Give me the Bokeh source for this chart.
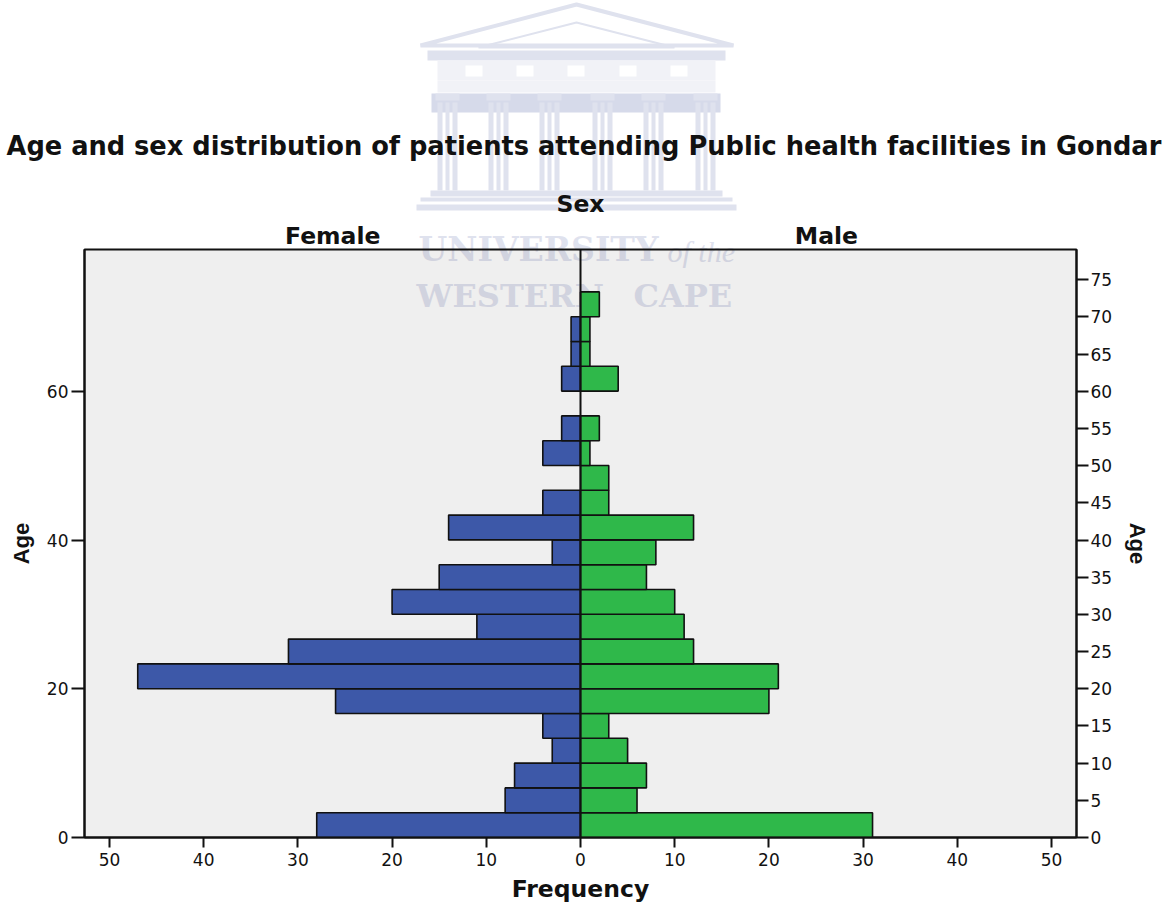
from bokeh.plotting import figure
from bokeh.core.properties import value
from bokeh.models import Range1d, LinearAxis, FixedTicker, Span
from bokeh.embed import file_html
from bokeh.resources import INLINE

TITLE = "Age and sex distribution of patients attending Public health facilities in Gondar"
BIN_WIDTH = 3.335
female = [28, 8, 7, 3, 4, 26, 47, 31, 11, 20, 15, 3, 14, 4, 0, 4, 2, 0, 2, 1, 1, 0]
male = [31, 6, 7, 5, 3, 20, 21, 12, 11, 10, 7, 8, 12, 3, 3, 1, 2, 0, 4, 1, 1, 2]
freq_ticks = [-50, -40, -30, -20, -10, 0, 10, 20, 30, 40, 50]
left_ticks = [0, 20, 40, 60]
right_ticks = [0, 5, 10, 15, 20, 25, 30, 35, 40, 45, 50, 55, 60, 65, 70, 75]
panel_ticks = {-26.3: "Female", 26.1: "Male"}

FEMALE_C = "#3d58a8"
MALE_C = "#2fb84a"
WM = "#dfe2ee"
WM2 = "#d6daea"
WM3 = "#f1f2f7"
TXT = "#111111"
WIDE = "DejaVu Sans"
ARIAL = "Liberation Sans"

W, H = 1166, 904

# ---- watermark page (logo behind the transparent chart)
wm = figure(width=W, height=H, output_backend="svg", toolbar_location=None,
            x_range=Range1d(0, W), y_range=Range1d(H, 0),
            min_border=0, outline_line_color=None,
            background_fill_color="white", border_fill_color="white")
wm.axis.visible = False
wm.grid.visible = False
wm.styles = {"position": "absolute", "top": "0", "left": "0"}

def box(l, t, r, b, color=WM):
    wm.quad(left=l, right=r, top=t, bottom=b, fill_color=color, line_color=None)

wm.patch([420, 576, 733], [45, 4, 45], fill_color=None, line_color=WM, line_width=4)
wm.patch([478, 576, 674], [47, 22, 47], fill_color=None, line_color=WM, line_width=2)
box(427, 50, 725, 60)
box(437, 60, 715, 80, WM3)
for l in [465, 516, 567, 619, 670]:
    box(l, 65, l + 17, 76, "white")
box(437, 80, 715, 92, WM3)
box(431, 93, 720, 112, WM2)
for c in [437, 488, 539, 592, 643, 695]:
    box(c - 2, 93, c + 22, 100, WM)
    box(c, 102, c + 5, 190)
    box(c + 8, 102, c + 12, 190)
    box(c + 15, 102, c + 20, 190)
box(430, 190, 722, 196)
box(420, 197, 732, 201)
box(416, 204, 736, 210)

def wm_text(text, x, y, size, style="bold", font="DejaVu Serif"):
    wm.text(x=[x], y=[y], text=[text], text_font=value(font), text_font_style=style,
            text_font_size=size, text_color=WM, text_align="left", text_baseline="middle")

wm_text("UNIVERSITY", 418, 249, "33px")
wm_text("of the", 667, 251, "30px", "italic", "Liberation Serif")
wm_text("WESTERN", 416, 295, "32px")
wm_text("CAPE", 633, 295, "32px")

# ---- chart
p = figure(width=W, height=H, output_backend="svg", toolbar_location=None,
           x_range=Range1d(-52.65, 52.65), y_range=Range1d(0, 79.07),
           min_border_left=84, min_border_right=90, min_border_top=249, min_border_bottom=67,
           border_fill_color=None, background_fill_color="black", background_fill_alpha=0.063)
p.styles = {"position": "absolute", "top": "0", "left": "0"}
p.frame_width = 992
p.frame_height = 588
p.grid.visible = False
p.outline_line_color = "#111111"
p.outline_line_width = 2

p.title.text = TITLE
p.title.text_font = WIDE
p.title.text_font_size = "25.7px"
p.title.text_font_style = "bold"
p.title.text_color = TXT
p.title.align = "left"
p.title.offset = -78
p.title.standoff = 52

def bars(values, sign, color):
    ys = [(i + 0.5) * BIN_WIDTH for i, v in enumerate(values) if v > 0]
    rs = [sign * v for v in values if v > 0]
    p.hbar(y=ys, left=0, right=rs, height=BIN_WIDTH, fill_color=color,
           line_color="#111111", line_width=1.6)

bars(female, -1, FEMALE_C)
bars(male, 1, MALE_C)
p.add_layout(Span(location=0, dimension="height", line_color="#111111", line_width=2))

def style(ax, tick_out):
    ax.major_label_text_font = WIDE
    ax.major_label_text_font_size = "17px"
    ax.major_label_text_color = TXT
    ax.axis_line_color = "#111111"
    ax.axis_line_width = 2
    ax.major_tick_line_color = "#111111"
    ax.major_tick_line_width = 2
    ax.major_tick_out = tick_out
    ax.major_tick_in = 0
    ax.minor_tick_line_color = None

def label(ax, text, font, size, standoff):
    ax.axis_label = text
    ax.axis_label_text_font = font
    ax.axis_label_text_font_style = "bold"
    ax.axis_label_text_font_size = size
    ax.axis_label_text_color = TXT
    ax.axis_label_standoff = standoff

xa = p.xaxis[0]
xa.ticker = FixedTicker(ticks=freq_ticks)
xa.major_label_overrides = {t: str(abs(t)) for t in freq_ticks}
style(xa, 10)
xa.major_label_standoff = 5
label(xa, "Frequency", WIDE, "23.5px", 6)

ya = p.yaxis[0]
ya.ticker = FixedTicker(ticks=left_ticks)
style(ya, 13)
ya.major_label_orientation = "horizontal"
ya.major_label_standoff = 3
label(ya, "Age", ARIAL, "22px", 10)

yr = LinearAxis(ticker=FixedTicker(ticks=right_ticks))
style(yr, 12)
yr.major_label_standoff = 2
label(yr, "Age", ARIAL, "22px", 10)
p.add_layout(yr, "right")

xt = LinearAxis(ticker=FixedTicker(ticks=list(panel_ticks)), major_label_overrides=panel_ticks)
xt.axis_line_color = None
xt.major_tick_line_color = None
xt.minor_tick_line_color = None
xt.major_tick_out = 0
xt.major_tick_in = 0
xt.major_label_standoff = 0
xt.major_label_text_font = WIDE
xt.major_label_text_font_style = "bold"
xt.major_label_text_font_size = "23.5px"
xt.major_label_text_color = TXT
label(xt, "Sex", WIDE, "23.5px", 1)
p.add_layout(xt, "above")

open("out.html", "w").write(file_html((wm, p), INLINE))
